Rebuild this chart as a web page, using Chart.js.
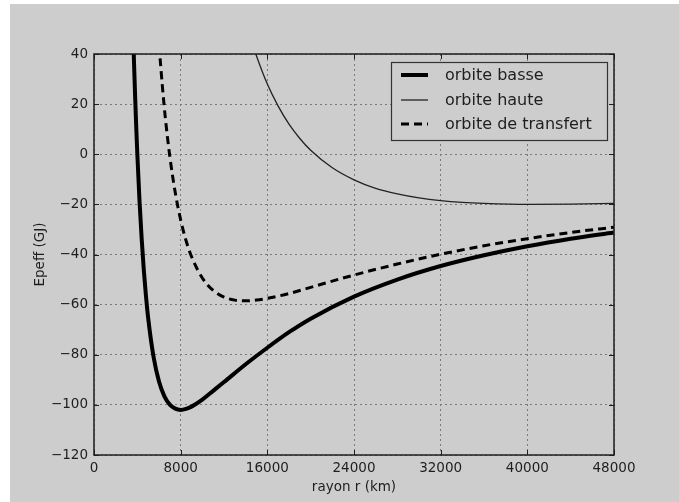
<!DOCTYPE html>
<html>
<head>
<meta charset="utf-8">
<script src="https://cdn.jsdelivr.net/npm/chart.js@4/dist/chart.umd.min.js"></script>
<style>
  html, body { margin: 0; padding: 0; background: #fff; }
  #wrap { width: 679px; height: 502px; position: relative; }
</style>
</head>
<body>
<div id="wrap"><canvas id="chart"></canvas></div>
<script>
// Values (r in km, Epeff in GJ)
const rLow = [3650, 3700, 3800, 3900, 4000, 4200, 4400, 4600, 4800, 5000, 5500, 6000, 6500, 7000, 7500, 8000, 8500, 9000, 10000, 11000, 12000, 14000, 16000, 18000, 20000, 24000, 28000, 32000, 36000, 40000, 44000, 48000];
const eLow = [42.9, 35.7, 22.6, 10.7, 0, -18.5, -33.7, -46.3, -56.7, -65.3, -80.9, -90.7, -96.6, -99.9, -101.5, -102, -101.6, -100.7, -97.9, -94.4, -90.9, -83.8, -77.2, -71, -65.6, -56.8, -50, -44.6, -40.3, -36.7, -33.7, -31.2];

const rHigh = [14700, 15000, 16000, 17000, 18000, 19000, 20000, 22000, 24000, 26000, 28000, 30000, 32000, 34000, 36000, 40000, 44000, 48000];
const eHigh = [43.1, 39.2, 28, 19.2, 12, 6.3, 1.6, -5.4, -10.2, -13.6, -15.8, -17.4, -18.5, -19.2, -19.6, -20.0, -19.9, -19.6];

const rTransfer = [6100, 6300, 6600, 7000, 7500, 8000, 8500, 9000, 10000, 11000, 12000, 13000, 14000, 15000, 16000, 18000, 20000, 24000, 28000, 32000, 36000, 40000, 44000, 48000];
const eTransfer = [38.3, 27.7, 13.9, -0.9, -15.3, -26.2, -34.5, -40.8, -49.4, -54.3, -57, -58.2, -58.5, -58.2, -57.5, -55.6, -53.1, -48.2, -43.8, -39.9, -36.5, -33.7, -31.2, -29.1];

const seriesLabels = ['orbite basse', 'orbite haute', 'orbite de transfert'];
const xTitle = 'rayon r (km)';
const yTitle = 'Epeff (GJ)';

const GREY = '#cdcdcd';
const INK = '#1e1e1e';
const FONT = "'DejaVu Sans', sans-serif";
const GRID_DASH = [2, 3];

function pts(xs, ys) {
  return xs.map((x, i) => ({ x: x, y: ys[i] }));
}

// Grey figure background (the image has a thin white margin top/left)
const bgPlugin = {
  id: 'bg',
  beforeDraw(chart) {
    const c = chart.ctx;
    c.save();
    c.fillStyle = '#ffffff';
    c.fillRect(0, 0, chart.width, chart.height);
    c.fillStyle = GREY;
    c.fillRect(10, 4, chart.width - 10, chart.height - 4);
    c.restore();
  }
};

// Frame, inward ticks on all four sides, and the boxed legend
const framePlugin = {
  id: 'frame',
  afterDraw(chart) {
    const c = chart.ctx;
    const a = chart.chartArea;
    const xs = chart.scales.x;
    const ys = chart.scales.y;
    c.save();
    c.strokeStyle = INK;
    c.lineWidth = 1;
    c.beginPath();
    xs.ticks.forEach(t => {
      const px = Math.round(xs.getPixelForValue(t.value)) + 0.5;
      c.moveTo(px, a.bottom); c.lineTo(px, a.bottom - 5);
      c.moveTo(px, a.top); c.lineTo(px, a.top + 5);
    });
    ys.ticks.forEach(t => {
      const py = Math.round(ys.getPixelForValue(t.value)) + 0.5;
      c.moveTo(a.left, py); c.lineTo(a.left + 5, py);
      c.moveTo(a.right, py); c.lineTo(a.right - 5, py);
    });
    c.stroke();
    c.lineWidth = 1.5;
    c.strokeRect(a.left, a.top, a.right - a.left, a.bottom - a.top);

    // legend
    const bx = 391, by = 62, bw = 216, bh = 78;
    c.fillStyle = GREY;
    c.fillRect(bx, by, bw, bh);
    c.lineWidth = 1.2;
    c.strokeStyle = '#333';
    c.strokeRect(bx + 0.5, by + 0.5, bw, bh);
    const rows = [75, 100, 124];
    chart.data.datasets.forEach((ds, i) => {
      c.beginPath();
      c.strokeStyle = ds.borderColor;
      c.lineWidth = ds.borderWidth;
      c.setLineDash(ds.borderDash || []);
      c.moveTo(401, rows[i]);
      c.lineTo(428, rows[i]);
      c.stroke();
      c.setLineDash([]);
      c.fillStyle = INK;
      c.font = '16px ' + FONT;
      c.textBaseline = 'middle';
      c.textAlign = 'left';
      c.fillText(ds.label, 445, rows[i] + 1);
    });
    c.restore();
  }
};

const fmt = v => String(v).replace('-', '\u2212');

new Chart(document.getElementById('chart'), {
  type: 'line',
  data: {
    datasets: [
      {
        label: seriesLabels[0],
        data: pts(rLow, eLow),
        borderColor: '#000',
        borderWidth: 4,
        pointRadius: 0,
        cubicInterpolationMode: 'monotone',
        clip: 0
      },
      {
        label: seriesLabels[1],
        data: pts(rHigh, eHigh),
        borderColor: '#222',
        borderWidth: 1.3,
        pointRadius: 0,
        cubicInterpolationMode: 'monotone',
        clip: 0
      },
      {
        label: seriesLabels[2],
        data: pts(rTransfer, eTransfer),
        borderColor: '#000',
        borderWidth: 3,
        borderDash: [8, 5],
        pointRadius: 0,
        cubicInterpolationMode: 'monotone',
        clip: 0
      }
    ]
  },
  options: {
    responsive: true,
    maintainAspectRatio: false,
    animation: false,
    layout: { padding: { top: 54, right: 65, left: 0, bottom: 0 } },
    plugins: {
      legend: { display: false },
      tooltip: { enabled: false }
    },
    scales: {
      x: {
        type: 'linear',
        min: 0,
        max: 48000,
        afterFit: s => { s.height = 47; },
        ticks: {
          stepSize: 8000,
          padding: 5,
          color: INK,
          font: { family: FONT, size: 13.5 },
          maxRotation: 0,
          callback: v => fmt(v)
        },
        grid: {
          color: '#7a7a7a',
          lineWidth: 1,
          drawTicks: false,
          borderDash: GRID_DASH
        },
        border: { display: true, color: 'rgba(0,0,0,0)', dash: GRID_DASH },
        title: {
          display: true,
          text: xTitle,
          color: INK,
          font: { family: FONT, size: 13.5 },
          padding: { top: 0, bottom: 6 }
        }
      },
      y: {
        min: -120,
        max: 40,
        afterFit: s => { s.width = 94; },
        ticks: {
          stepSize: 20,
          padding: 6,
          color: INK,
          font: { family: FONT, size: 13.5 },
          callback: v => fmt(v)
        },
        grid: {
          color: '#7a7a7a',
          lineWidth: 1,
          drawTicks: false,
          borderDash: GRID_DASH
        },
        border: { display: true, color: 'rgba(0,0,0,0)', dash: GRID_DASH },
        title: {
          display: true,
          text: yTitle,
          color: INK,
          font: { family: FONT, size: 13.5 },
          padding: { top: 32, bottom: 0 }
        }
      }
    }
  },
  plugins: [bgPlugin, framePlugin]
});
</script>
</body>
</html>
